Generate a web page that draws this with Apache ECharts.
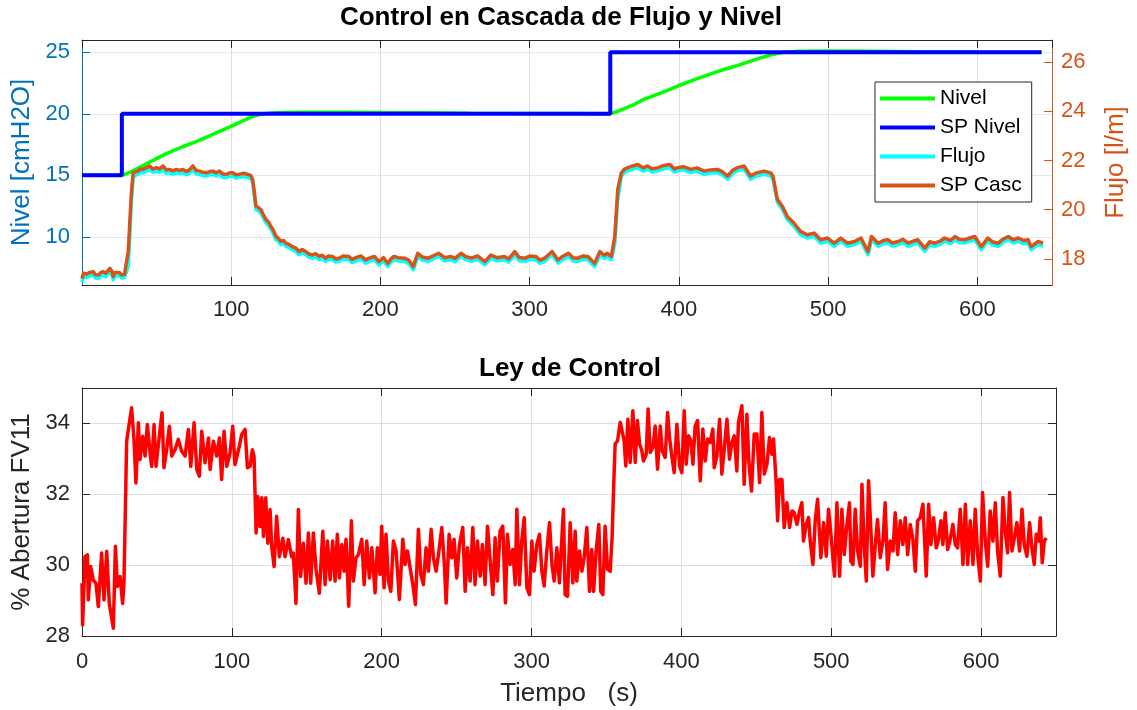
<!DOCTYPE html>
<html><head><meta charset="utf-8">
<script src="https://cdn.jsdelivr.net/npm/echarts@6/dist/echarts.min.js"></script>
<style>html,body{margin:0;padding:0;background:#fff}#c{width:1137px;height:710px}</style>
</head><body><div id="c"></div>
<script>
// ---------- data ----------
const topLeftTicks = [10, 15, 20, 25];
const topRightTicks = [18, 20, 22, 24, 26];

const spNivelTime = [0, 26.7, 26.7, 354, 354, 643];
const spNivelValue = [15, 15, 20, 20, 25, 25];

const nivelTime = [0,10,20,27,35,45,56.5,67,78.7,88,98.8,107,114.4,120,125,135,150,175,200,230,260,300,330,354,360,370,377,389,400,410,421.4,430,439,452.6,462,470,480,500,530,560,600,643];
const nivelValue = [15.0,15.0,15.0,15.0,15.4,16.05,16.76,17.3,17.84,18.35,18.92,19.38,19.78,19.97,20.05,20.1,20.12,20.12,20.1,20.08,20.05,20.03,20.02,20.0,20.25,20.75,21.2,21.75,22.3,22.75,23.24,23.6,23.92,24.46,24.8,25.0,25.08,25.1,25.08,25.05,25.02,25.0];

const cascTime = [0,1,3,5,7.6,9,10.9,12.5,14.2,16,
18.7,20,20.9,22,23.1,25,26.5,28.5,29.8,31,
32,33,34.3,36,37.6,39.5,40.9,43,45.4,47.5,
49.8,52,54.3,56.5,58.7,61,63.2,65.5,67.6,70,
72,74.3,76.5,78.8,81,83.2,85.5,87.7,90,92.1,
94.5,96.6,99,101,103,105.5,108,111,113,114.4,
115.5,116.6,118,120,121.5,123.3,125,126.6,128,130,
131.5,133.3,135,136.6,138.5,141,143,145.5,147.5,150,
152,154.4,156.5,158.9,161,163.3,165,167.8,170,172.2,
175,178.9,181,184,187,190,193,196,198.9,202,
205,207,209,212,216,219,222,225,228,232,
235,239,243,247,250,254,257,261,265,270,
274,278,283,286,290,293,297,300,304,307,
310,315,319,322,326,329,332,336,339,343.5,
347,350,352,354.7,357,359,361.4,363.5,365.8,369,
372.5,376,379,382,386,390,394,397,399,403,
408,412,417,421,426,429,432.6,436,439,443.7,
448,452,457,461.5,463,466,469.3,472.6,477,481.5,
486,490.6,495,499.6,504,508.5,513,517.7,522,526.7,
529,533.5,537,540,543,547,550,553.7,557,560,
564.8,568,571.3,575,578,582,585,588,591.5,595,
598.3,602.6,607,610,614,617,620.7,624,627.4,631,
634,636,640.7,644];

const spCascValue = [17.20,17.42,17.38,17.45,17.48,17.36,17.35,17.44,17.48,17.42,
17.62,17.50,17.28,17.45,17.41,17.45,17.35,17.38,17.45,18.30,
19.46,20.60,21.50,21.55,21.57,21.66,21.64,21.70,21.78,21.65,
21.71,21.66,21.78,21.62,21.64,21.58,21.64,21.60,21.64,21.55,
21.62,21.78,21.60,21.57,21.52,21.50,21.55,21.57,21.50,21.57,
21.45,21.44,21.50,21.50,21.42,21.44,21.48,21.44,21.40,21.23,
20.70,20.14,20.10,20.00,19.80,19.60,19.50,19.32,19.20,18.91,
18.85,18.71,18.75,18.64,18.60,18.50,18.45,18.30,18.38,18.30,
18.20,18.16,18.22,18.10,18.15,18.03,18.12,18.10,18.00,18.03,
18.12,18.10,17.98,18.06,18.12,17.96,18.05,18.10,17.89,18.05,
17.82,18.00,18.10,18.05,18.03,17.95,17.69,18.23,18.08,18.03,
18.12,18.23,18.05,18.10,18.02,18.23,18.10,18.03,18.12,17.89,
18.16,18.05,18.10,18.00,18.30,18.06,18.03,18.12,18.10,17.95,
18.03,18.30,17.96,18.10,18.23,18.05,18.03,18.12,18.10,17.82,
18.30,18.15,18.23,18.10,18.91,20.82,21.50,21.65,21.71,21.78,
21.84,21.70,21.78,21.66,21.71,21.80,21.84,21.66,21.71,21.75,
21.64,21.70,21.57,21.62,21.64,21.55,21.37,21.60,21.71,21.78,
21.37,21.50,21.57,21.50,21.37,20.41,20.14,19.73,19.46,19.12,
18.98,19.05,18.78,18.85,18.64,18.85,18.64,18.71,18.85,18.30,
18.91,18.64,18.75,18.78,18.65,18.71,18.80,18.64,18.72,18.78,
18.44,18.70,18.64,18.72,18.85,18.75,18.91,18.80,18.78,18.85,
18.91,18.50,18.85,18.70,18.64,18.80,18.91,18.78,18.85,18.75,
18.78,18.50,18.71,18.64];

const flujoValue = [17.05,17.28,17.25,17.30,17.36,17.22,17.20,17.30,17.35,17.28,
17.48,17.38,17.15,17.30,17.28,17.32,17.22,17.25,17.30,17.70,
18.90,20.20,21.32,21.40,21.45,21.52,21.50,21.56,21.64,21.52,
21.58,21.52,21.64,21.48,21.50,21.45,21.50,21.47,21.50,21.42,
21.48,21.63,21.46,21.44,21.38,21.37,21.42,21.44,21.37,21.43,
21.32,21.30,21.37,21.36,21.29,21.31,21.35,21.31,21.27,21.10,
20.55,20.00,19.96,19.86,19.66,19.46,19.36,19.19,19.06,18.78,
18.72,18.58,18.62,18.51,18.47,18.37,18.32,18.17,18.25,18.17,
18.07,18.03,18.09,17.97,18.02,17.90,17.99,17.97,17.87,17.90,
17.99,17.97,17.85,17.93,17.99,17.83,17.92,17.97,17.76,17.92,
17.69,17.87,17.97,17.92,17.90,17.82,17.56,18.10,17.95,17.90,
17.99,18.10,17.92,17.97,17.89,18.10,17.97,17.90,17.99,17.76,
18.03,17.92,17.97,17.87,18.17,17.93,17.90,17.99,17.97,17.82,
17.90,18.17,17.83,17.97,18.10,17.92,17.90,17.99,17.97,17.69,
18.17,18.02,18.10,17.97,18.60,20.40,21.35,21.52,21.58,21.65,
21.71,21.57,21.65,21.53,21.58,21.67,21.71,21.53,21.58,21.62,
21.51,21.57,21.44,21.49,21.51,21.42,21.24,21.47,21.58,21.65,
21.24,21.37,21.44,21.37,21.24,20.30,20.01,19.60,19.33,18.99,
18.85,18.92,18.65,18.72,18.51,18.72,18.51,18.58,18.72,18.17,
18.78,18.51,18.62,18.65,18.52,18.58,18.67,18.51,18.59,18.65,
18.31,18.57,18.51,18.59,18.72,18.62,18.78,18.67,18.65,18.72,
18.78,18.37,18.72,18.57,18.51,18.67,18.78,18.65,18.72,18.62,
18.65,18.37,18.58,18.51];

const leyTime = [0,0.4,2.0,3.6,4.2,5.8,7.5,9.3,10.9,13.1,
14.7,16.5,18.2,20.9,22.3,23.6,25.4,27.1,28.0,29.8,
30.9,33.1,34.7,36.0,37.6,38.7,40.5,42.1,43.6,45.4,
46.5,48.1,49.4,51.6,53.4,54.7,56.5,58.3,59.9,62.1,
64.3,66.5,68.8,71.0,72.6,74.8,76.6,78.3,79.9,82.1,
84.4,85.5,87.7,89.9,91.7,93.2,94.8,96.6,98.8,100.6,
102.1,105.0,106.6,108.8,110.4,112.2,113.7,114.8,116.2,117.3,
118.8,120.0,121.1,122.6,124.0,125.5,126.6,128.2,129.9,131.7,
134.0,135.5,137.7,139.9,141.0,142.8,144.4,145.9,147.7,149.5,
151.1,152.6,154.4,156.2,158.4,
160.7,162.2,163.8,165.6,167.3,168.9,170.4,171.8,173.4,174.9,
176.2,178.0,179.8,181.1,182.9,184.5,186.7,188.3,190.0,191.8,
193.4,195.6,197.1,198.9,200.0,201.6,202.9,204.5,206.1,207.8,
209.6,211.8,214.1,215.6,217.2,219.0,220.8,222.5,224.5,226.1,
227.8,229.6,231.2,233.0,234.5,236.3,237.9,240.1,241.7,243.0,
245.0,246.8,248.3,250.1,251.9,254.1,255.7,257.2,259.0,260.8,
262.3,263.9,265.7,267.2,269.0,270.6,272.4,274.2,275.7,277.2,
279.0,280.8,282.6,283.9,285.7,287.5,289.1,290.2,291.9,293.5,
295.1,296.9,298.6,300.2,301.7,303.5,305.3,306.9,308.4,310.2,
312.0,313.6,315.1,316.9,318.6,
321.3,322.4,324.0,325.8,327.6,329.1,330.2,332.0,333.6,335.1,
336.9,338.7,340.2,341.4,343.1,344.9,346.2,347.6,349.1,350.7,
352.5,353.8,354.7,355.8,357.4,359.2,360.3,361.8,362.9,364.3,
365.8,367.6,369.2,370.7,372.1,373.6,374.7,376.5,377.8,379.2,
381.0,382.5,384.1,385.9,387.2,389.2,390.8,392.1,393.6,395.2,
397.0,398.8,400.3,401.9,403.2,404.8,406.3,407.7,409.2,410.8,
412.6,414.3,415.9,417.5,419.2,421.0,421.9,423.7,425.5,427.0,
428.6,430.4,432.1,433.7,435.3,437.0,438.1,440.4,441.9,443.7,
445.0,446.8,448.6,450.4,452.2,453.7,455.3,457.1,458.8,460.4,
461.5,463.3,464.2,465.5,467.1,468.6,470.4,472.2,473.8,475.3,
477.1,478.9,
480.4,481.5,483.3,484.9,486.0,487.8,489.3,490.9,492.2,493.1,
494.9,496.7,498.2,499.8,501.1,502.2,503.8,505.6,507.1,508.7,
510.5,512.2,513.1,514.5,516.0,517.6,519.4,520.5,522.0,523.4,
524.9,526.5,527.8,529.4,530.9,532.7,534.5,536.0,537.6,539.4,
541.2,542.7,544.3,546.1,547.8,549.4,551.0,552.7,554.5,556.1,
557.6,559.4,561.2,563.4,565.0,566.5,568.3,570.1,571.6,573.2,
574.5,576.1,577.7,579.4,581.2,582.8,584.3,586.1,587.9,589.5,
591.0,592.8,594.6,596.1,597.7,599.5,601.0,602.8,604.4,606.1,
607.9,609.5,611.0,612.8,614.6,616.1,617.7,619.0,620.6,622.2,
623.9,625.7,627.3,628.8,630.6,632.4,633.9,635.5,636.8,638.4,
639.5,640.8,642.2,643.5];

const leyValue = [29.49,28.31,30.24,30.29,29.02,29.96,29.58,29.49,28.83,30.34,
29.02,30.39,28.92,28.22,30.53,29.40,29.68,28.92,29.49,33.50,
33.50,34.44,33.55,32.32,34.02,32.98,33.64,33.08,33.97,33.17,
32.79,33.97,32.79,33.64,34.30,32.75,33.26,33.92,33.08,33.26,
33.55,33.22,33.08,33.83,32.79,34.02,32.70,32.51,33.78,32.89,
33.59,32.70,33.50,33.08,33.59,32.42,33.78,32.79,33.17,33.92,
32.84,33.36,33.69,33.83,32.75,32.79,33.26,33.08,30.91,31.94,
31.09,31.90,30.81,31.90,30.62,31.57,30.53,29.96,31.38,30.24,
30.76,30.24,30.72,30.24,30.34,28.92,31.57,29.68,30.62,29.49,
30.91,29.49,30.91,29.87,29.21,
30.96,29.45,30.68,29.59,30.68,29.55,30.87,29.64,30.58,29.83,
30.73,28.84,31.25,29.55,30.21,30.30,30.73,29.45,30.68,29.64,
30.49,29.22,30.49,29.74,31.10,29.36,30.87,29.55,29.26,30.68,
30.40,29.03,30.73,30.02,30.40,29.92,29.45,28.89,31.01,29.74,
29.45,30.49,29.83,31.01,30.21,29.83,30.30,31.06,30.11,28.93,
30.87,30.21,30.73,29.64,30.58,31.06,29.26,30.49,29.55,31.06,
29.45,30.68,29.69,30.58,29.45,31.10,30.11,29.17,30.77,29.55,
30.96,31.10,28.93,30.87,30.02,30.44,29.45,31.58,29.45,30.68,
31.34,29.36,29.17,30.68,29.83,30.58,30.87,29.83,29.41,30.40,
31.20,30.02,29.55,30.49,29.50,
31.58,29.17,29.12,31.20,29.50,30.96,29.55,30.40,29.83,30.21,
31.06,29.26,30.44,29.26,30.40,31.15,29.26,29.17,31.10,29.88,
29.83,30.82,32.09,33.42,33.51,34.03,33.98,33.51,32.80,34.12,
32.90,34.36,32.90,34.08,33.42,33.23,32.94,33.13,34.41,33.18,
33.32,33.93,32.71,33.93,33.23,33.04,34.31,33.60,33.08,32.61,
33.98,32.80,32.61,34.36,32.85,33.65,33.51,32.85,33.93,34.08,
32.38,33.84,32.94,33.56,33.46,33.84,32.75,33.08,34.12,32.57,
33.27,34.12,32.99,33.46,33.65,32.66,34.03,34.50,32.28,34.26,
32.94,32.09,33.70,33.70,32.33,34.31,32.57,32.85,33.60,33.13,
33.56,32.28,31.25,32.42,32.42,31.06,31.76,31.06,31.53,31.48,
31.15,31.53,
31.76,30.68,31.15,31.34,30.68,30.02,31.25,31.86,30.87,30.21,
31.20,30.25,31.58,30.87,30.21,29.69,31.76,29.69,31.58,30.30,
31.15,31.76,30.11,30.02,31.58,30.40,29.97,32.28,30.58,29.55,
32.38,30.96,29.69,30.58,31.29,30.21,30.68,31.76,29.88,30.68,
30.40,31.48,30.30,31.25,30.58,31.34,30.30,31.15,30.73,29.83,
31.25,31.34,31.72,29.69,31.72,30.58,31.34,30.49,30.73,31.25,
30.58,31.48,30.44,30.73,31.15,30.58,30.49,31.58,30.02,31.72,
30.02,31.25,30.02,31.58,30.30,29.55,32.05,30.68,29.97,31.53,
30.68,31.76,30.40,29.69,31.91,30.96,30.35,32.05,30.40,30.77,
31.20,30.40,31.58,30.58,30.25,31.20,30.49,30.02,30.87,30.68,
31.34,30.07,30.68,30.77];

// ---------- chart ----------
const FONT = 'Liberation Sans, Arial, Helvetica, sans-serif';
const AX = '#262626';
const BLUE = '#0072BD';
const ORANGE = '#D95319';
const zip = (a, b) => a.map((t, i) => [t, b[i]]);

const tickIn = (color) => ({show: true, inside: true, length: 8, lineStyle: {color: color, width: 1}});
const line = (color) => ({show: true, onZero: false, lineStyle: {color: color, width: 1}});

const chart = echarts.init(document.getElementById('c'), null, {renderer: 'canvas'});
chart.setOption({
  animation: false,
  backgroundColor: '#ffffff',
  textStyle: {fontFamily: FONT},
  grid: [
    {left: 82, top: 40, width: 974, height: 245, containLabel: false},
    {left: 82, top: 388, width: 974, height: 248, containLabel: false}
  ],
  graphic: [
    {type: 'text', x: 561, y: 18, style: {text: 'Control en Cascada de Flujo y Nivel', font: 'bold 26px ' + FONT, fill: '#000', align: 'center', verticalAlign: 'middle'}},
    {type: 'text', x: 570, y: 369, style: {text: 'Ley de Control', font: 'bold 26px ' + FONT, fill: '#000', align: 'center', verticalAlign: 'middle'}}
  ],
  legend: {
    data: ['Nivel', 'SP Nivel', 'Flujo', 'SP Casc'],
    orient: 'vertical', left: 875, top: 82,
    icon: 'rect', itemWidth: 55, itemHeight: 4, itemGap: 8,
    padding: [6, 10, 6, 5],
    borderColor: AX, borderWidth: 1, backgroundColor: '#fff',
    textStyle: {fontSize: 21, color: '#000', fontFamily: FONT}
  },
  xAxis: [
    {gridIndex: 0, type: 'value', min: 0, max: 650, interval: 100, position: 'bottom',
     axisLine: line(AX), axisTick: tickIn(AX),
     axisLabel: {showMinLabel: false, showMaxLabel: false, fontSize: 22, color: AX, margin: 14, fontFamily: FONT},
     splitLine: {show: true, lineStyle: {color: '#dedede', width: 1}}},
    {gridIndex: 0, type: 'value', min: 0, max: 650, interval: 100, position: 'top',
     axisLine: line(AX), axisTick: tickIn(AX), axisLabel: {show: false}, splitLine: {show: false}},
    {gridIndex: 1, type: 'value', min: 0, max: 650, interval: 100, position: 'bottom',
     axisLine: line(AX), axisTick: tickIn(AX),
     axisLabel: {showMaxLabel: false, fontSize: 22, color: AX, margin: 15, fontFamily: FONT},
     splitLine: {show: true, lineStyle: {color: '#dedede', width: 1}},
     name: 'Tiempo   (s)', nameLocation: 'middle', nameGap: 45,
     nameTextStyle: {fontSize: 26, color: AX, fontFamily: FONT}},
    {gridIndex: 1, type: 'value', min: 0, max: 650, interval: 100, position: 'top',
     axisLine: line(AX), axisTick: tickIn(AX), axisLabel: {show: false}, splitLine: {show: false}}
  ],
  yAxis: [
    {gridIndex: 0, type: 'value', min: 6.08, max: 26, position: 'left',
     axisLine: line(BLUE), axisTick: Object.assign(tickIn(BLUE), {customValues: topLeftTicks}),
     axisLabel: {customValues: topLeftTicks, fontSize: 22, color: BLUE, margin: 12, fontFamily: FONT},
     splitLine: {show: true, lineStyle: {color: '#d9eaf5', width: 1}},
     name: 'Nivel [cmH2O]', nameLocation: 'middle', nameRotate: 90, nameGap: 41,
     nameTextStyle: {fontSize: 26, color: BLUE, fontFamily: FONT}},
    {gridIndex: 0, type: 'value', min: 16.94, max: 26.9, position: 'right',
     axisLine: line(ORANGE), axisTick: Object.assign(tickIn(ORANGE), {customValues: topRightTicks}),
     axisLabel: {customValues: topRightTicks, fontSize: 22, color: ORANGE, margin: 9, fontFamily: FONT},
     splitLine: {show: false},
     name: 'Flujo [l/m]', nameLocation: 'middle', nameRotate: 90, nameGap: 51,
     nameTextStyle: {fontSize: 26, color: ORANGE, fontFamily: FONT}},
    {gridIndex: 1, type: 'value', min: 28, max: 35, interval: 2, position: 'left',
     axisLine: line(AX), axisTick: tickIn(AX),
     axisLabel: {showMaxLabel: false, fontSize: 22, color: AX, margin: 12, fontFamily: FONT},
     splitLine: {show: true, lineStyle: {color: '#dedede', width: 1}},
     name: '% Abertura FV11', nameLocation: 'middle', nameRotate: 90, nameGap: 44,
     nameTextStyle: {fontSize: 26, color: AX, fontFamily: FONT}},
    {gridIndex: 1, type: 'value', min: 28, max: 35, interval: 2, position: 'right',
     axisLine: line(AX), axisTick: tickIn(AX), axisLabel: {show: false}, splitLine: {show: false}}
  ],
  series: [
    {name: 'Nivel', type: 'line', xAxisIndex: 0, yAxisIndex: 0, data: zip(nivelTime, nivelValue),
     showSymbol: false, color: '#00FF00', lineStyle: {width: 3.5, color: '#00FF00'}, z: 2},
    {name: 'SP Nivel', type: 'line', xAxisIndex: 0, yAxisIndex: 0, data: zip(spNivelTime, spNivelValue),
     showSymbol: false, color: '#0000FF', lineStyle: {width: 4, color: '#0000FF'}, z: 3},
    {name: 'Flujo', type: 'line', xAxisIndex: 0, yAxisIndex: 1, data: zip(cascTime, flujoValue),
     showSymbol: false, color: '#00FFFF', lineStyle: {width: 3.5, color: '#00FFFF', join: 'round'}, z: 4},
    {name: 'SP Casc', type: 'line', xAxisIndex: 0, yAxisIndex: 1, data: zip(cascTime, spCascValue),
     showSymbol: false, color: ORANGE, lineStyle: {width: 3.5, color: ORANGE, join: 'round'}, z: 5},
    {name: 'Ley', type: 'line', xAxisIndex: 2, yAxisIndex: 2, data: zip(leyTime, leyValue),
     showSymbol: false, color: '#FF0000', lineStyle: {width: 3.5, color: '#FF0000', join: 'round'}, z: 2}
  ]
});
</script>
</body></html>
